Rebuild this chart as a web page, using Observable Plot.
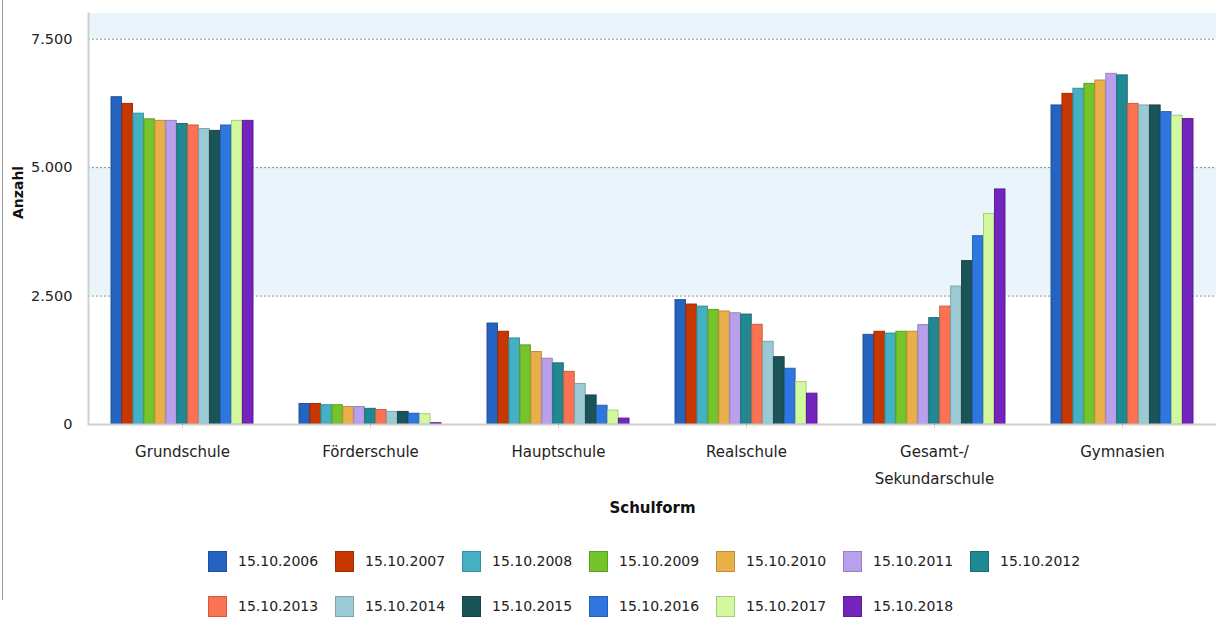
<!DOCTYPE html>
<html><head><meta charset="utf-8">
<script src="https://cdn.jsdelivr.net/npm/d3@7"></script>
<script src="https://cdn.jsdelivr.net/npm/@observablehq/plot@0.6"></script>
<style>
body{margin:0;background:#fff;font-family:"DejaVu Sans",sans-serif;}
#wrap{position:relative;width:1217px;height:617px;overflow:hidden;}
#frameL{position:absolute;left:2px;top:0;width:1px;height:600px;background:#999;}
#legend{position:absolute;left:208px;top:550px;display:grid;grid-template-columns:repeat(7,127px);row-gap:23px;}
.item{display:flex;align-items:center;height:22px;font-size:14px;color:#222;white-space:nowrap;}
.sw{width:19px;height:21px;box-sizing:border-box;border:1px solid;margin-right:11px;flex:none;}
</style></head><body>
<div id="wrap"><div id="chart"></div><div id="legend"></div><div id="frameL"></div></div>
<script>
const schools = ["Grundschule","Förderschule","Hauptschule","Realschule","Gesamt-/\nSekundarschule","Gymnasien"];
const years = ["15.10.2006","15.10.2007","15.10.2008","15.10.2009","15.10.2010","15.10.2011","15.10.2012","15.10.2013","15.10.2014","15.10.2015","15.10.2016","15.10.2017","15.10.2018"];
const colors = ["#2563c0","#c63800","#45b0c4","#74c42c","#e9b04a","#b9a0ec","#1f8891","#fb7352","#9ccad4","#1b5458","#2f77e0","#d2f99e","#7224bd"];
const grundschule  = [6370,6240,6050,5940,5910,5910,5850,5820,5750,5715,5820,5910,5910];
const foerderschule = [400,400,375,375,340,340,305,280,245,245,210,200,25];
const hauptschule  = [1965,1805,1675,1540,1410,1280,1190,1025,790,565,365,270,115];
const realschule   = [2420,2335,2295,2230,2200,2165,2140,1940,1610,1310,1085,825,600];
const gesamtschule = [1745,1805,1770,1805,1805,1935,2070,2295,2685,3180,3665,4095,4575];
const gymnasien    = [6210,6435,6535,6630,6695,6825,6795,6240,6210,6210,6080,6010,5945];
const yTicks = [0,2500,5000,7500];

const seriesBySchool = [grundschule,foerderschule,hauptschule,realschule,gesamtschule,gymnasien];
const rows = [];
schools.forEach((s,i)=>years.forEach((y,j)=>rows.push({school:s, year:y, value:seriesBySchool[i][j], color:colors[j]})));
const fmt = d => d3.format(",")(d).replace(/,/g,".");
const dark = c => d3.color(c).darker(0.6).formatHex();

const chart = Plot.plot({
  width:1217, height:530, marginLeft:88, marginRight:1, marginTop:13, marginBottom:106,
  style:{fontFamily:"DejaVu Sans", fontSize:"14px", color:"#222", background:"transparent"},
  fx:{domain:schools, padding:0, round:false},
  x:{domain:years, paddingInner:0.04, paddingOuter:2.1, round:false, axis:null},
  y:{domain:[0,8000]},
  color:{type:"identity"},
  marks:[
    Plot.rect([{a:2500,b:5000},{a:7500,b:8000}], {y1:"a", y2:"b", fill:"#e9f5fa"}),
    Plot.ruleY(yTicks.slice(1), {stroke:"#8a8a8a", strokeDasharray:"2,2"}),
    Plot.barY(rows, {fx:"school", x:"year", y:"value", fill:"color", stroke:d=>dark(d.color), strokeWidth:1}),
    Plot.ruleY([0], {stroke:"#cfcfcf", strokeWidth:2}),
    Plot.frame({anchor:"left", stroke:"#cfcfcf", strokeWidth:2, facetAnchor:"left"}),
    Plot.axisY({ticks:yTicks, tickSize:0, tickPadding:16, tickFormat:fmt, label:null, fontSize:14.5}),
    Plot.axisFx({anchor:"bottom", label:null, tickSize:5, tickPadding:8, fontSize:15, lineHeight:1.8, stroke:"#999", strokeDasharray:"1,1.5"}),
    Plot.text(["Anzahl"], {frameAnchor:"left", dx:-70, rotate:-90, fontWeight:"bold", fontSize:14, fill:"#111", facet:"super"}),
    Plot.text(["Schulform"], {frameAnchor:"bottom", dy:88, fontWeight:"bold", fontSize:15, fill:"#111", facet:"super"})
  ]
});
document.getElementById("chart").append(chart);

const lg = document.getElementById("legend");
years.forEach((y,j)=>{
  const it = document.createElement("div"); it.className="item";
  const sw = document.createElement("span"); sw.className="sw";
  sw.style.background = colors[j]; sw.style.borderColor = dark(colors[j]);
  it.append(sw, document.createTextNode(y));
  lg.append(it);
});
</script>
</body></html>
